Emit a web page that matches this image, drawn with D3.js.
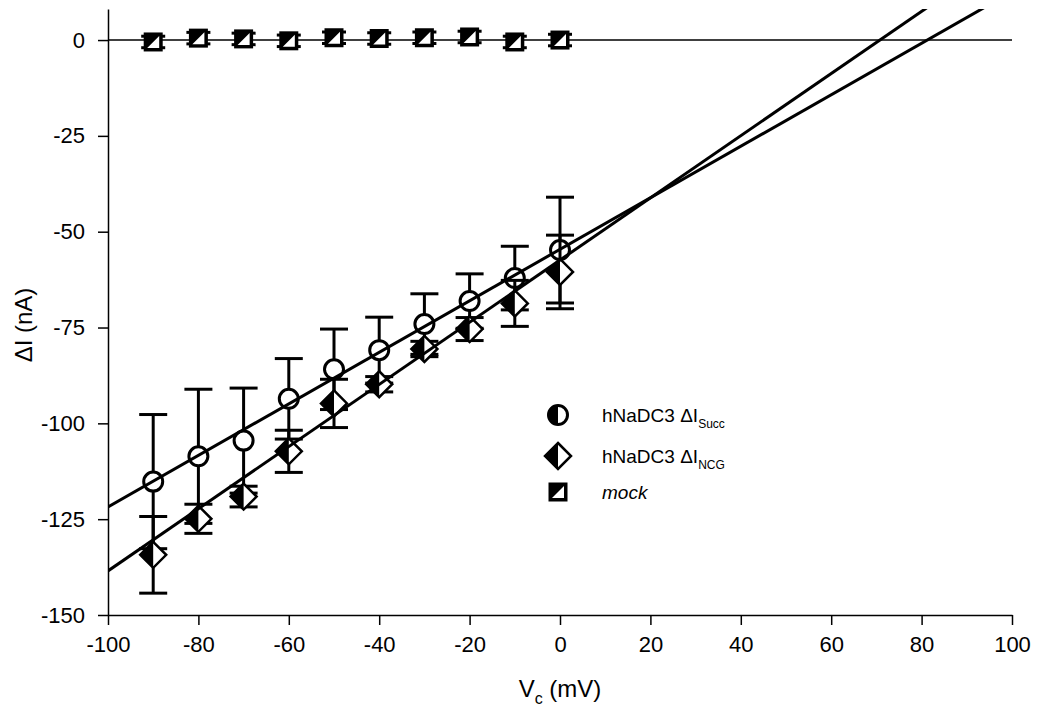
<!DOCTYPE html>
<html>
<head>
<meta charset="utf-8">
<script src="https://cdn.jsdelivr.net/npm/d3@7"></script>
<style>
  html, body { margin: 0; padding: 0; background: #fff; }
  svg { display: block; }
  text { font-family: "Liberation Sans", Arial, sans-serif; fill: #000; }
</style>
</head>
<body>
<svg id="chart" width="1037" height="717"></svg>
<script>
// ---- data ----
const voltages = [-90, -80, -70, -60, -50, -40, -30, -20, -10, 0];
const succMean = [-115.2, -108.6, -104.5, -93.6, -85.9, -80.9, -74.1, -68.1, -62.1, -54.8];
const succErr  = [17.5, 17.5, 13.7, 10.5, 10.5, 8.6, 7.9, 7.1, 8.3, 13.8];
const ncgMean  = [-134.3, -124.9, -119.1, -107.3, -94.8, -89.8, -80.6, -75.4, -68.7, -60.5];
const ncgErr   = [10.0, 3.8, 2.7, 5.5, 6.3, 2.0, 2.0, 3.0, 6.0, 9.6];
const mockMean = [-0.5, 0.5, 0.3, -0.2, 0.6, 0.4, 0.6, 0.8, -0.5, 0.0];
const mockErr  = [1.5, 1.5, 1.5, 1.5, 1.5, 1.5, 1.5, 1.5, 1.5, 1.5];
// linear regression fits (slope, intercept)
const succFit = [0.672, -54.6];
const ncgFit  = [0.811, -57.4];
const xTicks = [-100, -80, -60, -40, -20, 0, 20, 40, 60, 80, 100];
const yTicks = [0, -25, -50, -75, -100, -125, -150];
const legendLabels = ["hNaDC3 \u0394I", "hNaDC3 \u0394I", "mock"];
const legendSubs = ["Succ", "NCG", ""];

// ---- scales ----
const svg = d3.select("#chart");
const x = d3.scaleLinear().domain([-100, 100]).range([108, 1012]);
const y = d3.scaleLinear().domain([-150, 8.1]).range([615, 9]);

svg.append("defs").append("clipPath").attr("id", "plotclip")
  .append("rect").attr("x", x(-100)).attr("y", y(8.1))
  .attr("width", x(100) - x(-100)).attr("height", y(-150) - y(8.1));

// ---- axes ----
const fmt = d => String(d);
const xAxis = svg.append("g").attr("transform", `translate(0,${y(-150)})`)
  .call(d3.axisBottom(x).tickValues(xTicks).tickFormat(fmt).tickSize(10).tickSizeOuter(0).tickPadding(11));
const yAxis = svg.append("g").attr("transform", `translate(${x(-100)},0)`)
  .call(d3.axisLeft(y).tickValues(yTicks).tickFormat(fmt).tickSize(10).tickSizeOuter(0).tickPadding(13));
[xAxis, yAxis].forEach(g => {
  g.selectAll("path,line").attr("stroke", "#000").attr("stroke-width", 1.5);
  g.selectAll("text").attr("font-size", 22).attr("font-family", '"Liberation Sans", Arial, sans-serif').attr("fill", "#000");
});

// zero line
svg.append("line").attr("x1", x(-100)).attr("x2", x(100))
  .attr("y1", y(0)).attr("y2", y(0)).attr("stroke", "#000").attr("stroke-width", 1.5);

// axis titles
svg.append("text").attr("transform", `translate(32,${325}) rotate(-90)`)
  .attr("text-anchor", "middle").attr("font-size", 24)
  .text("\u0394I (nA)");
const xt = svg.append("text").attr("x", 560).attr("y", 697).attr("text-anchor", "middle").attr("font-size", 24);
xt.append("tspan").text("V");
xt.append("tspan").attr("font-size", 16).attr("dy", 7).text("c");
xt.append("tspan").attr("dy", -7).text(" (mV)");

// ---- marker helpers ----
function errorBars(g, means, errs, capW) {
  voltages.forEach((v, i) => {
    const cx = x(v), top = y(means[i] + errs[i]), bot = y(means[i] - errs[i]);
    g.append("line").attr("x1", cx).attr("x2", cx).attr("y1", top).attr("y2", bot);
    g.append("line").attr("x1", cx - capW / 2).attr("x2", cx + capW / 2).attr("y1", top).attr("y2", top);
    g.append("line").attr("x1", cx - capW / 2).attr("x2", cx + capW / 2).attr("y1", bot).attr("y2", bot);
  });
  g.attr("stroke", "#000").attr("stroke-width", 3);
}
function circleMarker(g, cx, cy, half) {
  const r = 9.5;
  g.append("circle").attr("cx", cx).attr("cy", cy).attr("r", r)
    .attr("fill", "#fff").attr("stroke", "#000").attr("stroke-width", 3);
  if (half) {
    g.append("path").attr("d", `M${cx},${cy - r} A${r},${r} 0 0 0 ${cx},${cy + r} Z`).attr("fill", "#000");
  }
}
function diamondMarker(g, cx, cy) {
  const w = 13, h = 13;
  g.append("path").attr("d", `M${cx},${cy - h} L${cx + w},${cy} L${cx},${cy + h} L${cx - w},${cy} Z`)
    .attr("fill", "#fff").attr("stroke", "#000").attr("stroke-width", 2.5).attr("stroke-linejoin", "miter");
  g.append("path").attr("d", `M${cx},${cy - h} L${cx - w},${cy} L${cx},${cy + h} Z`).attr("fill", "#000");
}
function squareMarker(g, cx, cy) {
  const s = 19, hs = s / 2, in_ = 3.5;
  g.append("rect").attr("x", cx - hs).attr("y", cy - hs).attr("width", s).attr("height", s).attr("fill", "#000");
  g.append("path").attr("d", `M${cx + hs - in_},${cy - hs + in_} L${cx + hs - in_},${cy + hs - in_} L${cx - hs + in_},${cy + hs - in_} Z`)
    .attr("fill", "#fff");
}

// ---- mock ----
errorBars(svg.append("g"), mockMean, mockErr, 24);
const gm = svg.append("g");
voltages.forEach((v, i) => squareMarker(gm, x(v), y(mockMean[i])));

// ---- succ ----
errorBars(svg.append("g"), succMean, succErr, 28);
const gs = svg.append("g");
voltages.forEach((v, i) => circleMarker(gs, x(v), y(succMean[i]), false));

// ---- ncg ----
errorBars(svg.append("g"), ncgMean, ncgErr, 28);
const gn = svg.append("g");
voltages.forEach((v, i) => diamondMarker(gn, x(v), y(ncgMean[i])));

// ---- fit lines ----
const gl = svg.append("g").attr("clip-path", "url(#plotclip)");
[succFit, ncgFit].forEach(f => {
  const line = d3.line().x(d => x(d)).y(d => y(f[0] * d + f[1]));
  gl.append("path").datum([-100, 100]).attr("d", line)
    .attr("fill", "none").attr("stroke", "#000").attr("stroke-width", 3);
});

// ---- legend ----
const lg = svg.append("g");
const legY = [415, 456, 492];
circleMarker(lg, 558, legY[0], true);
diamondMarker(lg, 558, legY[1]);
squareMarker(lg, 558, legY[2]);
legendLabels.forEach((lab, i) => {
  const t = lg.append("text").attr("x", 602).attr("y", legY[i] + 7).attr("font-size", 19);
  if (i === 2) t.attr("font-style", "italic");
  t.append("tspan").text(lab);
  if (legendSubs[i]) t.append("tspan").attr("font-size", 12).attr("dy", 6).text(legendSubs[i]);
});
</script>
</body>
</html>
